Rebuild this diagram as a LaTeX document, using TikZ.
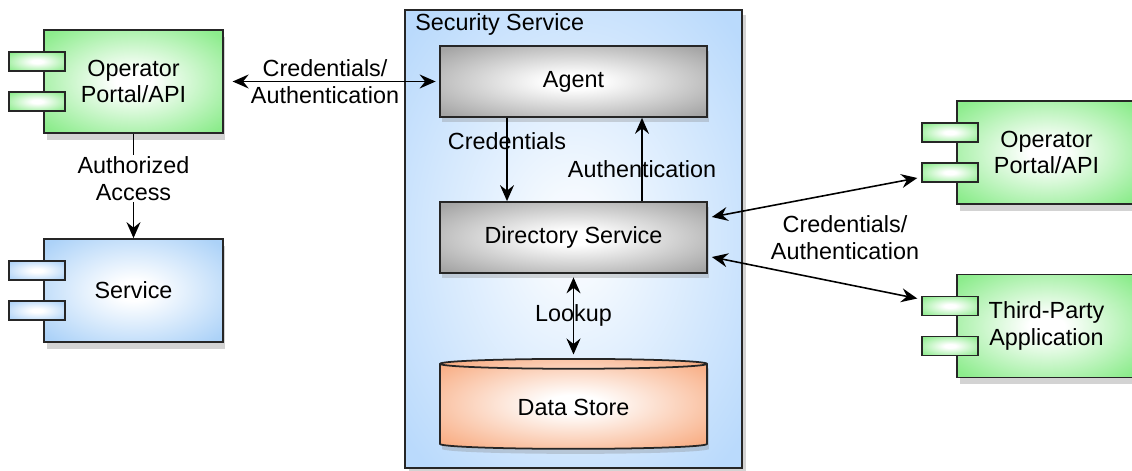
\documentclass[tikz,border=0pt]{standalone}
\usepackage{fontspec}
\setmainfont{Liberation Sans}
\usetikzlibrary{arrows.meta,shapes.geometric,shadows,positioning}
\definecolor{compgreen}{RGB}{140,236,140}
\definecolor{compblue}{RGB}{172,210,248}
\definecolor{secblue}{RGB}{186,218,252}
\definecolor{boxgray}{RGB}{165,165,165}
\definecolor{storeorange}{RGB}{248,172,130}
\colorlet{softouter}{gray}
\colorlet{softinner}{white}
\pgfdeclareradialshading[softouter,softinner]{soft}{\pgfpoint{0bp}{0bp}}{%
  color(0bp)=(softinner); color(5bp)=(softinner); color(33bp)=(softouter); color(50bp)=(softouter)}
\begin{document}
\begin{tikzpicture}[x=0.02cm, y=-0.02cm, font=\fontsize{13.3}{15.3}\selectfont,
  >={Stealth[length=3.2mm,width=2.8mm,inset=1.1mm]},
  shade/.style={draw=black!85, line width=1pt, /utils/exec={\colorlet{softouter}{#1}\colorlet{softinner}{white}}, shading=soft},
  comp/.style={shade=#1, minimum width=3.58cm, minimum height=2.06cm, align=center,
    drop shadow={opacity=0.35, shadow xshift=0.5mm, shadow yshift=-1.4mm}},
  tab/.style={shade=#1, minimum width=1.12cm, minimum height=0.38cm, inner sep=0pt},
  inbox/.style={shade=boxgray, minimum width=5.34cm, minimum height=1.42cm,
    drop shadow={opacity=0.3, shadow xshift=0.4mm, shadow yshift=-1mm}},
  link/.style={line width=0.9pt}]
  \useasboundingbox (0,0) rectangle (1132,470);

  % security service container
  \node[draw=black!85, line width=1pt, /utils/exec={\colorlet{softouter}{secblue}\colorlet{softinner}{secblue!15}},
    shading=soft, minimum width=6.74cm, minimum height=9.16cm,
    drop shadow={opacity=0.35, shadow xshift=0.8mm, shadow yshift=-1mm}] (sec) at (573.5,239) {};
  \node[anchor=base west, inner sep=0pt] (sectitle) at (415,31) {Security Service};
  \node[inbox] (agent) at (573.5,81.5) {Agent};
  \node[inbox] (dir) at (573.5,237.5) {Directory Service};
  \node[cylinder, shape border rotate=90, aspect=0.08, shade=storeorange, minimum width=5.34cm,
    minimum height=1.8cm, anchor=north, drop shadow={opacity=0.3, shadow xshift=0.4mm, shadow yshift=-1mm}]
    (ds) at (573.5,358) {Data Store};

  % components
  \node[comp=compgreen] (opl) at (133.5,81.5) {Operator\\Portal/API};
  \node[comp=compblue] (svc) at (133.5,290.5) {Service};
  \node[comp=compgreen] (opr) at (1046.5,152.5) {Operator\\Portal/API};
  \node[comp=compgreen] (tpa) at (1046.5,326) {Third-Party\\Application};
  \foreach \n/\c in {opl/compgreen, svc/compblue, opr/compgreen, tpa/compgreen} {
    \node[tab=\c] (\n-a) at ([shift={(-6,-20)}]\n.west) {};
    \node[tab=\c] (\n-b) at ([shift={(-6,20)}]\n.west) {};
  }

  % connectors
  \draw[link, <->, shorten <=5pt, shorten >=2pt] (opl.east) -- (agent.west)
    node[pos=0.47, align=center] (credlbl) {Credentials/\\Authentication};
  \draw[link, ->] (opl.south) -- (svc.north)
    node[pos=0.43, fill=white, align=center, inner sep=1pt] (acclbl) {Authorized\\Access};
  \draw[link, ->] ([shift={(-66.5,0)}]agent.south) -- ([shift={(-66.5,0)}]dir.north)
    node[pos=0.28] (crdlbl) {Credentials};
  \draw[link, ->] ([shift={(68.5,0)}]dir.north) -- ([shift={(68.5,0)}]agent.south)
    node[pos=0.39] (authlbl) {Authentication};
  \draw[link, <->, shorten <=2pt, shorten >=2pt] (dir.south) -- (ds.north)
    node[midway] (lookuplbl) {Lookup};
  \draw[link, <->] ([shift={(4,-20.5)}]dir.east) -- ([shift={(-4,5.5)}]opr-b.west);
  \draw[link, <->] ([shift={(4,19.5)}]dir.east) -- ([shift={(-4,-7.5)}]tpa-a.west);
  \node[align=center] (credlbl2) at (845,238) {Credentials/\\Authentication};
\end{tikzpicture}
\end{document}
